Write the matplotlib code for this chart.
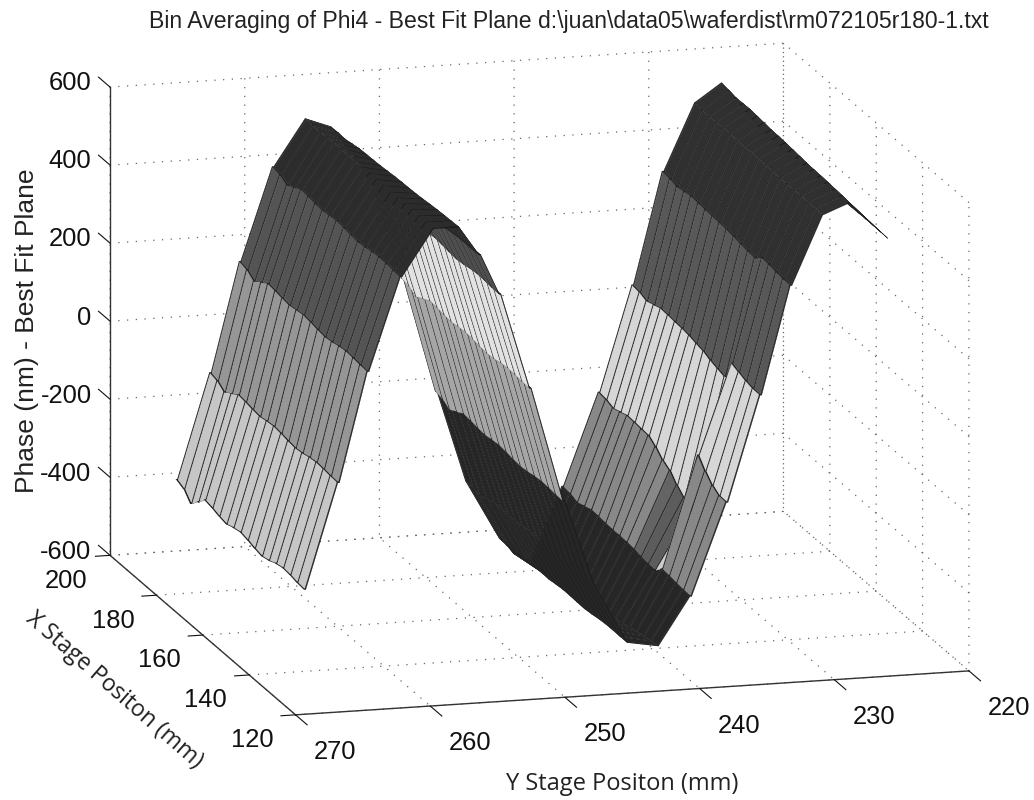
import numpy as np
import matplotlib
matplotlib.use('Agg')
import matplotlib.pyplot as plt
from matplotlib.transforms import ScaledTranslation
from mpl_toolkits.mplot3d import Axes3D

TITLE = r"Bin Averaging of Phi4 - Best Fit Plane d:\juan\data05\waferdist\rm072105r180-1.txt"
x_ticks = [120, 140, 160, 180, 200]
y_ticks = [220, 230, 240, 250, 260, 270]
z_ticks = [-600, -400, -200, 0, 200, 400, 600]

# Stripe positions along X stage
x_stage = [125.0, 128.1, 131.1, 134.2, 137.2, 140.3, 143.3, 146.4, 149.4, 152.5,
           155.6, 158.6, 161.7, 164.7, 167.8, 170.8, 173.9, 176.9, 180.0]
# Section along Y stage, nearest edge
y_stage = [268.5, 266.0, 263.8, 261.35, 258.9, 257.0, 255.5, 254.0, 251.75, 249.25,
           247.0, 244.5, 242.2, 239.85, 237.15, 234.65, 232.4, 230.0, 228.0, 225.15]
phase_near = [-308, -40, 240, 477, 595, 595, 520, 416, 170, -125,
              -340, -498, -512, -390, -155, 114, 390, 565, 592, 494]
far_extra = [0, 0, 0, 0, 0, -25, -20, 0, 0, 0, -20, -15, -68, 0, 0, 0, 10, 5, 25, 0]
far_weight = [0.00, 0.06, 0.11, 0.17, 0.22, 0.28, 0.33, 0.39, 0.44, 0.50,
              0.56, 0.61, 0.67, 0.72, 0.78, 0.83, 0.89, 0.94, 1.00]
# Slow wander across X, strongest at the foot of the first flank
ripple_x = [0, 2, 6, 8, 4, -4, -8, -4, 2, 6, 2, -4, 0, 6, 10, -10, -30, -8, 0]
ripple_y = [1, 0.6, 0.6, 0.5, 0.1, 0.1, 0.3, 0.5, 0.5, 0.5,
            0.3, 0.3, 0.2, 0.3, 0.3, 0.3, 0.2, 0.1, 0.1, 0.1]
# Local step in the rising flank, by X stripe and by Y knot
step_x = [0, 0, 10, 30, 56, -100, -80, -65, -45, -35, -15, 0, 0, 0, 0, 0, 0, 0, 0]
step_y = [0, 0, 0, 0, 0, 0, 0, 0, 0, 0, 0, 0, 0, 0.1, 1, 0.3, 0.1, 0, 0, 0]
# Gray level of each section between two Y knots
band_gray = [198, 150, 84, 44, 44, 44, 78, 226, 166, 38,
             38, 38, 38, 136, 214, 88, 48, 48, 48]
# Darker patch and light sliver on the rising flank: stripe index, gray
patch_stripe = [4, 5, 6, 7]
patch_gray = [205, 92, 92, 100]
PATCH_KNOT = 13

STRIPE = 28 / 255.0
thin_x = 0.36
thin_y = 0.12

# Assemble the grid: a thin dark facet beside each wide one
xs = []
for i, x in enumerate(x_stage):
    xs.append((x, i))
    xs.append((x + thin_x, i))
ks, dys = [], []
for k in range(len(y_stage)):
    ks.append(k)
    dys.append(0.0)
    boundary = k == 0 or k == len(y_stage) - 1 or band_gray[k] != band_gray[k - 1]
    if boundary and k < len(y_stage) - 1:
        ks.append(k)
        dys.append(-thin_y)

M, N = len(xs), len(ks)
X = np.zeros((M, N))
Y = np.zeros((M, N))
Z = np.zeros((M, N))
F = np.zeros((M, N, 4))
for a, (x, i) in enumerate(xs):
    for b, k in enumerate(ks):
        X[a, b] = x
        Y[a, b] = y_stage[k] + dys[b]
        Z[a, b] = (phase_near[k] + far_weight[i] * far_extra[k]
                   + ripple_x[i] * ripple_y[k] + step_x[i] * step_y[k])
        thin_row = b + 1 < N and ks[b + 1] == k
        thin_col = a % 2 == 0
        if thin_row or thin_col:
            g = STRIPE
        else:
            g = band_gray[min(k, len(band_gray) - 1)] / 255.0
            if k == PATCH_KNOT and i in patch_stripe:
                g = patch_gray[patch_stripe.index(i)] / 255.0
        F[a, b] = (g, g, g, 1)

plt.rcParams['font.family'] = ['Liberation Sans', 'DejaVu Sans']
plt.rcParams['axes.unicode_minus'] = False
fig = plt.figure(figsize=(10.34, 8), dpi=100, facecolor='white')
S = 1000.0
cx, cy = 526.0, 392.5
ax = fig.add_axes([(cx - S / 2) / 1034, (800 - cy - S / 2) / 800, S / 1034, S / 800],
                  projection='3d')
ax.set_proj_type('ortho')
ax.view_init(elev=13.7, azim=164.6)
ax.set_box_aspect((1, 1, 0.69), zoom=1.067)
ax.set_xlim(120, 200)
ax.set_ylim(220, 270)
ax.set_zlim(-600, 600)

ax.plot_surface(X, Y, Z, facecolors=F, rstride=1, cstride=1, shade=False,
                linewidth=0.25, antialiased=True)

ax.set_xticks(x_ticks)
ax.set_yticks(y_ticks)
ax.set_zticks(z_ticks)
tick_len = {ax.xaxis: -0.27, ax.yaxis: -0.78, ax.zaxis: 0.78}
for a in (ax.xaxis, ax.yaxis, ax.zaxis):
    a.set_pane_color((1, 1, 1, 0))
    a.pane.set_edgecolor((1, 1, 1, 0))
    a.line.set_color('#333333')
    a.line.set_linewidth(1.0)
    a._axinfo['grid'].update(color='#666666', linewidth=0.9, linestyle=(0, (1, 6)))
    a._axinfo['tick'].update(inward_factor=0.0, outward_factor=tick_len[a], linewidth={True: 0.8, False: 0.8})
    a._axinfo['axisline']['color'] = '#333333'
ax.zaxis.set_ticks_position('upper')
ax.zaxis.set_label_position('upper')
ax.zaxis._get_tickdir = lambda position: 0
ax.tick_params(axis='both', labelsize=18.4, colors='#111111', pad=4)
ax.tick_params(axis='z', labelsize=18.4, colors='#111111', pad=4)


def shift_tick_labels(axis, dx, dy, ha='center'):
    """Move an axis' tick labels by whole pixels (the 3D axis resets them per draw)."""
    off = ScaledTranslation(dx / fig.dpi, dy / fig.dpi, fig.dpi_scale_trans)
    original = axis.get_major_ticks

    def patched(numticks=None):
        ticks = original(numticks)
        for t in ticks:
            t.label1.set_transform(ax.transData + off)
            t.label1.set_horizontalalignment(ha)
        return ticks
    axis.get_major_ticks = patched


def shift_label(axis, dx, dy):
    off = ScaledTranslation(dx / fig.dpi, dy / fig.dpi, fig.dpi_scale_trans)
    axis.label.get_transform = lambda: ax.transData + off


shift_tick_labels(ax.xaxis, -22, 3)
shift_tick_labels(ax.yaxis, 34, -5)
shift_tick_labels(ax.zaxis, 9, 12, ha='right')

ax.set_title(TITLE, fontsize=16.6, color='#222222', y=0.931, x=0.543)
ax.xaxis.set_rotate_label(False)
ax.yaxis.set_rotate_label(False)
ax.zaxis.set_rotate_label(False)
ax.set_xlabel('X Stage Positon (mm)', fontsize=16.5, rotation=-41, labelpad=30,
              color='#222222', family='Open Sans')
ax.set_ylabel('Y Stage Positon (mm)', fontsize=17, rotation=0, labelpad=30,
              color='#222222', family='Open Sans')
ax.set_zlabel('Phase (nm) - Best Fit Plane', fontsize=19, rotation=90, labelpad=30,
              color='#222222')
shift_label(ax.xaxis, 3, 15)
shift_label(ax.yaxis, -35, -6)
shift_label(ax.zaxis, 34, -25)

fig.savefig('out.png', dpi=100)
